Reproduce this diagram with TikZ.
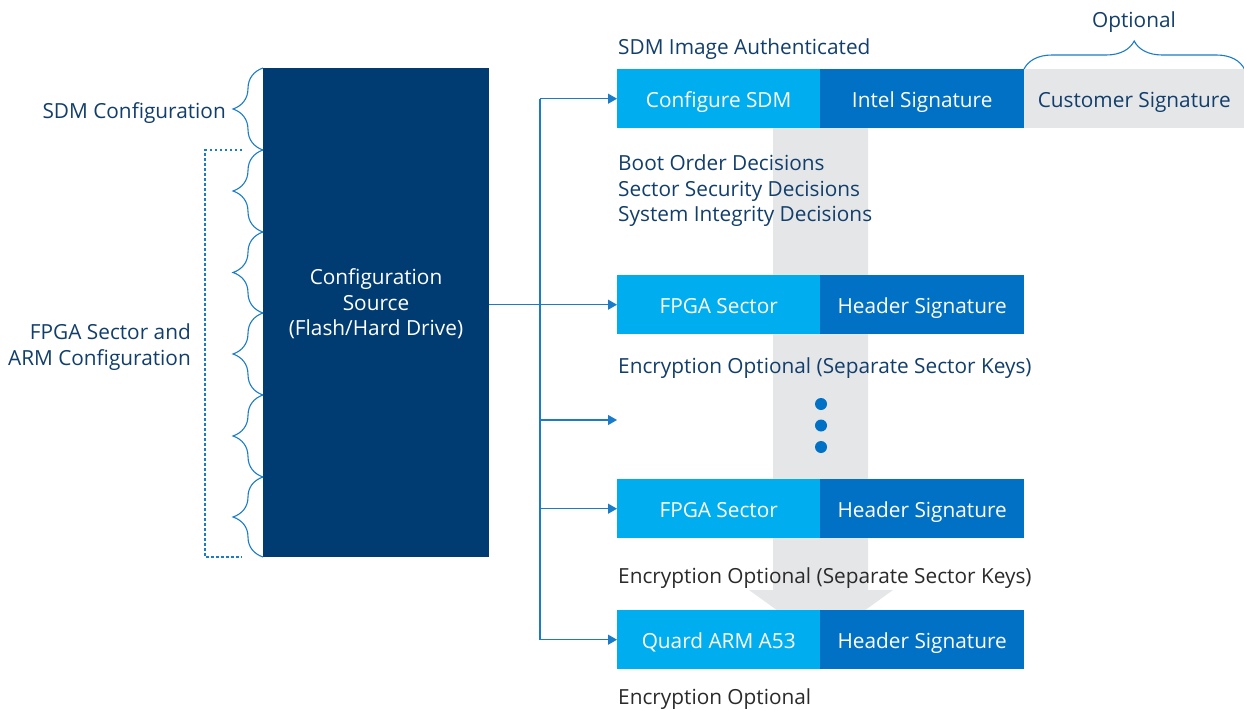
\documentclass[tikz,border=0pt]{standalone}
\usepackage{fontspec}
\setmainfont{Open Sans}
\usetikzlibrary{decorations.pathreplacing,arrows.meta}
\definecolor{navy}{HTML}{003C71}
\definecolor{cyanb}{HTML}{00AEEF}
\definecolor{blueb}{HTML}{0071C5}
\definecolor{grayb}{HTML}{E5E6E8}
\definecolor{txtnavy}{HTML}{123E6B}
\definecolor{txtgray}{HTML}{2A2A2A}
\definecolor{linec}{HTML}{1A7CC8}
\tikzset{
  every node/.style={font=\fontsize{20.8}{25.5}\selectfont},
  boxL/.style={rectangle, fill=cyanb, text=white, minimum width=203pt, minimum height=59pt, inner sep=0pt, anchor=north west, text height=17pt, text depth=0pt},
  boxR/.style={rectangle, fill=blueb, text=white, minimum width=204pt, minimum height=59pt, inner sep=0pt, anchor=north west, text height=17pt, text depth=0pt},
  lbl/.style={text=txtnavy, inner sep=0pt},
  lblg/.style={text=txtgray, inner sep=0pt},
  conn/.style={draw=linec, line width=1.1pt},
  arr/.style={conn, -{Triangle[length=9pt,width=10pt]}},
  bracedec/.style={draw=linec, line width=1.1pt, decorate, decoration={brace, amplitude=#1}},
}
\begin{document}
\begin{tikzpicture}[x=1pt,y=-1pt]
\useasboundingbox (0,0) rectangle (1244,709);
% gray flow arrow
\fill[grayb] (773,128) -- (868,128) -- (868,590) -- (893,590) -- (821,642) -- (749,590) -- (773,590) -- cycle;
% source block
\node[fill=navy, minimum width=226pt, minimum height=489pt, inner sep=0pt, anchor=north west] (src) at (263,68) {};
\node[text=white, align=center, inner sep=0pt] (srctxt) at (376,304) {Configuration\\Source\\(Flash/Hard Drive)};
% braces
\foreach \a/\b [count=\i] in {68/150,150/232,232/313,313/395,395/477,477/557}{
  \coordinate (bt\i) at (263,\a);
  \coordinate (bb\i) at (263,\b);
  \draw[bracedec=30pt] (bb\i) -- (bt\i);
}
% dotted bracket
\coordinate (d1) at (242,150);
\coordinate (d2) at (205,150);
\coordinate (d3) at (205,557);
\coordinate (d4) at (242,557);
\draw[draw=linec, line width=2.5pt, dash pattern=on 2.5pt off 2.5pt] (d1) -- (d2) -- (d3) -- (d4);
\node[lbl, anchor=east] (sdmcfg) at (226,113) {SDM Configuration};
\node[lbl, anchor=east, align=right] (fpgacfg) at (191,347) {FPGA Sector and\\ARM Configuration};
% row 1
\node[lbl, anchor=west] (auth) at (618,49) {SDM Image Authenticated};
\node[boxL] (csdm) at (617,69) {Configure SDM};
\node[boxR] (isig) at (820,69) {Intel Signature};
\node[rectangle, fill=grayb, text=txtnavy, minimum width=220pt, minimum height=59pt, inner sep=0pt, anchor=north west, text height=17pt, text depth=0pt] (csig) at (1024,69) {Customer Signature};
\draw[bracedec=28pt] (csig.north west) -- (csig.north east);
\node[lbl] (opt) at (1134,22) {Optional};
\node[lbl, anchor=west, align=left] (dec) at (618,191) {Boot Order Decisions\\Sector Security Decisions\\System Integrity Decisions};
% row 2
\node[boxL] (fpga1) at (617,275) {FPGA Sector};
\node[boxR] (hs1) at (820,275) {Header Signature};
\node[lbl, anchor=west] (enc1) at (618,368) {Encryption Optional (Separate Sector Keys)};
% dots
\fill[blueb] (821,404) circle (6pt);
\fill[blueb] (821,425.5) circle (6pt);
\fill[blueb] (821,447) circle (6pt);
\coordinate (mid) at (617,420);
% row 3
\node[boxL] (fpga2) at (617,479) {FPGA Sector};
\node[boxR] (hs2) at (820,479) {Header Signature};
\node[lblg, anchor=west] (enc2) at (618,578) {Encryption Optional (Separate Sector Keys)};
% row 4
\node[boxL] (qarm) at (617,610) {Quard ARM A53};
\node[boxR] (hs3) at (820,610) {Header Signature};
\node[lblg, anchor=west] (enc3) at (618,699) {Encryption Optional};
% connectors
\coordinate (trunk) at (540,0);
\draw[conn] (csdm.west -| trunk) -- (qarm.west -| trunk);
\draw[conn] (src.east |- fpga1.west) -- (fpga1.west -| trunk);
\draw[arr] (csdm.west -| trunk) -- (csdm.west);
\draw[arr] (fpga1.west -| trunk) -- (fpga1.west);
\draw[arr] (mid -| trunk) -- (mid);
\draw[arr] (fpga2.west -| trunk) -- (fpga2.west);
\draw[arr] (qarm.west -| trunk) -- (qarm.west);
\end{tikzpicture}
\end{document}
